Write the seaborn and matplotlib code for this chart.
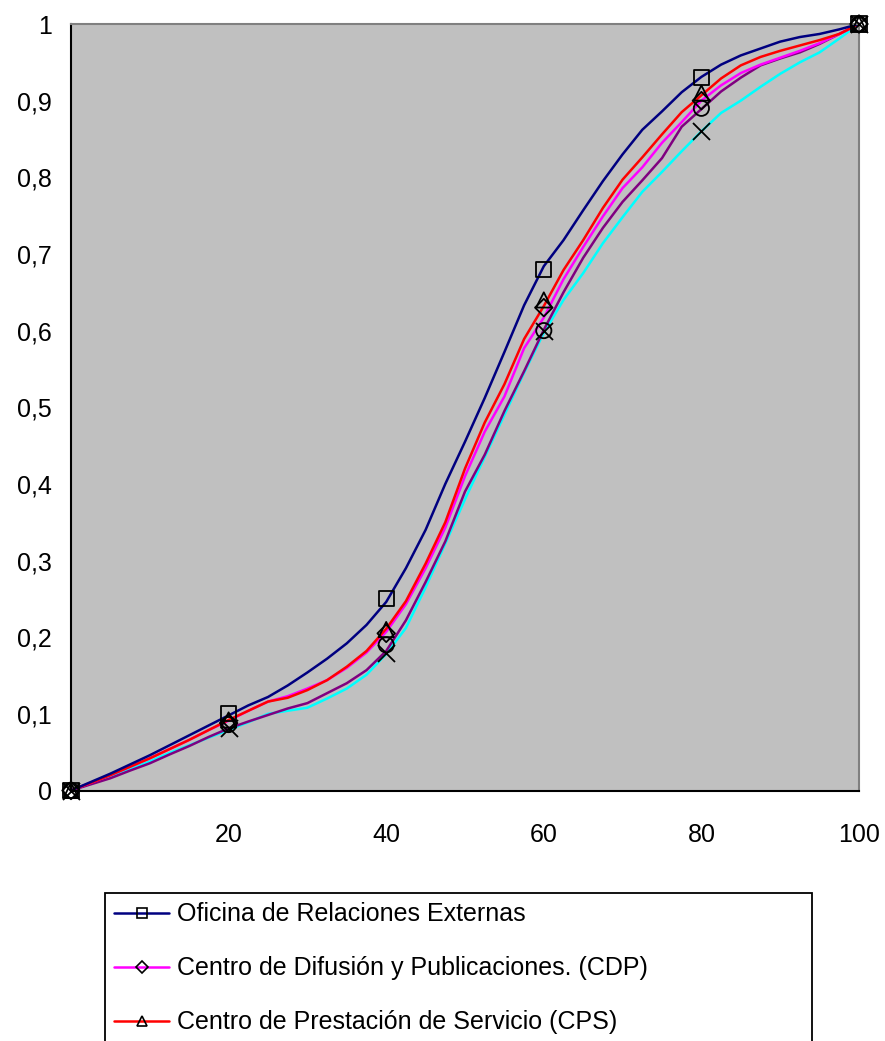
import matplotlib
matplotlib.use("Agg")
import matplotlib.pyplot as plt
from matplotlib.lines import Line2D
import seaborn as sns
import pandas as pd

# ---------------- data ----------------
x_grid = [0, 2.5, 5, 7.5, 10, 12.5, 15, 17.5, 20, 22.5, 25, 27.5, 30, 32.5, 35, 37.5,
          40, 42.5, 45, 47.5, 50, 52.5, 55, 57.5, 60, 62.5, 65, 67.5, 70, 72.5, 75,
          77.5, 80, 82.5, 85, 87.5, 90, 92.5, 95, 97.5, 100]

ore_line = [0, 0.011, 0.022, 0.034, 0.046, 0.059, 0.072, 0.085, 0.098, 0.111, 0.122,
            0.137, 0.154, 0.172, 0.192, 0.216, 0.246, 0.290, 0.340, 0.400, 0.455,
            0.512, 0.572, 0.633, 0.684, 0.718, 0.757, 0.795, 0.830, 0.862, 0.886,
            0.911, 0.931, 0.947, 0.959, 0.968, 0.977, 0.983, 0.987, 0.993, 1.0]
cdp_line = [0, 0.010, 0.020, 0.031, 0.042, 0.054, 0.066, 0.079, 0.091, 0.104, 0.116,
            0.123, 0.133, 0.144, 0.160, 0.180, 0.207, 0.243, 0.290, 0.343, 0.410,
            0.468, 0.514, 0.577, 0.617, 0.667, 0.709, 0.749, 0.786, 0.813, 0.845,
            0.872, 0.900, 0.920, 0.936, 0.947, 0.956, 0.965, 0.975, 0.987, 1.0]
cps_line = [0, 0.010, 0.020, 0.031, 0.042, 0.054, 0.066, 0.079, 0.092, 0.104, 0.116,
            0.121, 0.131, 0.144, 0.1615, 0.182, 0.211, 0.247, 0.296, 0.350, 0.420,
            0.480, 0.530, 0.589, 0.632, 0.679, 0.718, 0.760, 0.797, 0.826, 0.856,
            0.885, 0.907, 0.929, 0.946, 0.957, 0.965, 0.972, 0.979, 0.987, 1.0]
s4_line = [0, 0.008, 0.016, 0.026, 0.0355, 0.047, 0.058, 0.070, 0.081, 0.090, 0.0985,
           0.107, 0.114, 0.127, 0.140, 0.157, 0.182, 0.222, 0.272, 0.325, 0.390,
           0.438, 0.495, 0.547, 0.601, 0.650, 0.695, 0.734, 0.768, 0.796, 0.825,
           0.866, 0.889, 0.912, 0.930, 0.946, 0.955, 0.963, 0.974, 0.987, 1.0]
s5_line = [0, 0.009, 0.018, 0.028, 0.038, 0.049, 0.059, 0.069, 0.079, 0.089, 0.100,
           0.104, 0.108, 0.120, 0.133, 0.151, 0.178, 0.212, 0.265, 0.322, 0.380,
           0.435, 0.490, 0.545, 0.597, 0.640, 0.675, 0.714, 0.748, 0.781, 0.807,
           0.834, 0.860, 0.884, 0.900, 0.918, 0.935, 0.950, 0.963, 0.981, 1.0]

x_marks = [0, 20, 40, 60, 80, 100]
ore_marks = [0, 0.10, 0.25, 0.68, 0.93, 1.0]
cdp_marks = [0, 0.088, 0.205, 0.63, 0.90, 1.0]
cps_marks = [0, 0.092, 0.21, 0.64, 0.91, 1.0]
s4_marks = [0, 0.086, 0.19, 0.60, 0.89, 1.0]
s5_marks = [0, 0.082, 0.18, 0.60, 0.86, 1.0]

# the last two legend entries lie below the visible picture in the reference
labels = ["Oficina de Relaciones Externas",
          "Centro de Difusión y Publicaciones. (CDP)",
          "Centro de Prestación de Servicio (CPS)",
          "",
          ""]
colors = ["#000080", "#FF00FF", "#FF0000", "#800080", "#00FFFF"]
markers = ["s", "D", "^", "o", "x"]

y_ticks = [0, 0.1, 0.2, 0.3, 0.4, 0.5, 0.6, 0.7, 0.8, 0.9, 1.0]
y_tick_labels = ["0", "0,1", "0,2", "0,3", "0,4", "0,5", "0,6", "0,7", "0,8", "0,9", "1"]
x_ticks = [20, 40, 60, 80, 100]
x_tick_labels = ["20", "40", "60", "80", "100"]

lines = [ore_line, cdp_line, cps_line, s4_line, s5_line]
marks = [ore_marks, cdp_marks, cps_marks, s4_marks, s5_marks]

# ---------------- figure ----------------
sns.set_theme(style="white")
plt.rcParams["font.family"] = ["Liberation Sans", "DejaVu Sans"]
plt.rcParams["text.color"] = "black"

W, H = 885, 1041
fig = plt.figure(figsize=(W / 100, H / 100), dpi=100)
ax = fig.add_axes([71 / W, 1 - 790.5 / H, (859 - 71) / W, (790.5 - 24) / H])
ax.set_facecolor("#C0C0C0")

draw_order = [4, 3, 1, 2, 0]
for i in draw_order:
    df = pd.DataFrame({"x": x_grid, "y": lines[i]})
    sns.lineplot(data=df, x="x", y="y", color=colors[i], lw=1.8, ax=ax,
                 estimator=None, sort=False, legend=False, clip_on=False)

for i in range(5):
    dm = pd.DataFrame({"x": x_marks, "y": marks[i]})
    if markers[i] == "x":
        sns.scatterplot(data=dm, x="x", y="y", marker="x", s=150, color="black",
                        linewidth=1.3, ax=ax, legend=False, clip_on=False, zorder=5)
    else:
        sz = 120 if markers[i] != "D" else 80
        sns.scatterplot(data=dm, x="x", y="y", marker=markers[i], s=sz,
                        facecolor="none", edgecolor="black", linewidth=1.3,
                        ax=ax, legend=False, clip_on=False, zorder=5)

ax.set_xlim(0, 100)
ax.set_ylim(0, 1)
ax.set_xticks(x_ticks)
ax.set_xticklabels(x_tick_labels)
ax.set_yticks(y_ticks)
ax.set_yticklabels(y_tick_labels)
ax.set_xlabel("")
ax.set_ylabel("")
ax.tick_params(axis="both", direction="inout", length=13, width=1.3,
               color="black", labelsize=18, labelcolor="black")
ax.tick_params(axis="y", pad=7)
ax.tick_params(axis="x", pad=17)

for side in ["left", "bottom"]:
    ax.spines[side].set_color("black")
    ax.spines[side].set_linewidth(1.5)
    ax.spines[side].set_visible(True)
for side in ["top", "right"]:
    ax.spines[side].set_color("#808080")
    ax.spines[side].set_linewidth(1.5)
    ax.spines[side].set_visible(True)

handles = []
for i in range(5):
    if markers[i] == "x":
        h = Line2D([0], [0], color=colors[i], lw=1.8, marker="x", markersize=8,
                   markeredgecolor="black", markeredgewidth=1.2)
    else:
        h = Line2D([0], [0], color=colors[i], lw=1.8, marker=markers[i],
                   markersize=7 if markers[i] != "D" else 6,
                   markerfacecolor="none", markeredgecolor="black", markeredgewidth=1.2)
    handles.append(h)

leg = fig.legend(handles, labels, loc="upper left",
                 bbox_to_anchor=(105 / W, 1 - 893 / H, (812 - 105) / W, 0),
                 bbox_transform=fig.transFigure, mode="expand",
                 fontsize=18, frameon=True, fancybox=False, shadow=False,
                 handlelength=2.2, handletextpad=0.3, labelspacing=1.2,
                 borderpad=0.37, borderaxespad=0, numpoints=1)
leg.get_frame().set_edgecolor("black")
leg.get_frame().set_linewidth(1.3)
leg.get_frame().set_facecolor("white")
leg.get_frame().set_alpha(1)
for t in leg.get_texts():
    t.set_color("black")

fig.savefig("out.png", dpi=100)
